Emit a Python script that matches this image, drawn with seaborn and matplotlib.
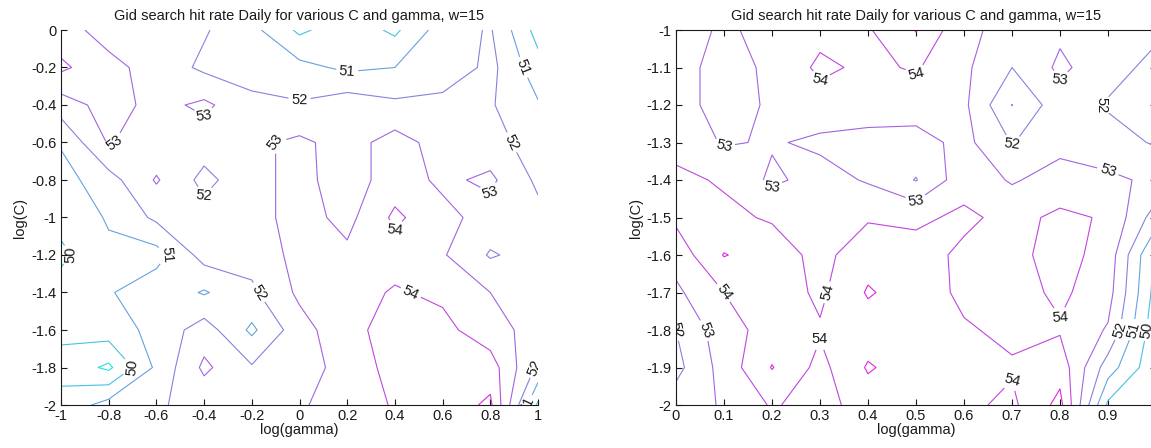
import numpy as np
import matplotlib
matplotlib.use("Agg")
import matplotlib.pyplot as plt
import seaborn as sns

# ---- grid search results: hit rate (%) on a log(gamma) x log(C) grid ----
# panel 1: log(gamma) -1..1, log(C) 0..-2
gamma_a = [-1.0, -0.8, -0.6, -0.4, -0.2, 0.0, 0.2, 0.4, 0.6, 0.8, 1.0]
logc_a = [0.0, -0.2, -0.4, -0.6, -0.8, -1.0, -1.2, -1.4, -1.6, -1.8, -2.0]
hit_a = [
    [53.4, 52.6, 52.3, 52.1, 51.3, 49.8, 50.6, 49.8, 51.5, 52.1, 49.6],
    [54.2, 53.3, 52.6, 51.8, 51.5, 51.3, 50.8, 51.0, 51.2, 52.3, 50.4],
    [52.5, 53.4, 52.7, 53.2, 52.3, 52.1, 52.6, 52.2, 52.4, 52.1, 51.1],
    [51.1, 53.1, 52.3, 52.5, 52.8, 53.2, 52.6, 53.4, 52.6, 52.4, 51.5],
    [50.6, 51.6, 53.1, 51.7, 52.7, 53.3, 52.5, 53.5, 52.8, 53.2, 51.8],
    [50.3, 51.1, 52.2, 52.4, 52.6, 53.4, 52.7, 54.2, 53.3, 52.6, 52.3],
    [49.8, 50.8, 50.6, 52.4, 52.4, 53.3, 53.2, 53.6, 53.1, 51.9, 52.4],
    [50.4, 50.9, 51.7, 50.9, 51.8, 53.2, 53.6, 54.1, 53.8, 53.0, 52.2],
    [50.2, 50.5, 51.3, 52.5, 50.8, 52.6, 53.7, 54.4, 54.3, 53.4, 52.6],
    [49.7, 48.8, 51.2, 53.2, 52.1, 52.4, 53.5, 54.3, 54.6, 54.5, 51.8],
    [50.3, 51.4, 51.9, 52.3, 52.4, 52.9, 53.4, 54.1, 54.4, 55.2, 49.8],
]

# panel 2: log(gamma) 0..1, log(C) -1..-2
gamma_b = [0.0, 0.1, 0.2, 0.3, 0.4, 0.5, 0.6, 0.7, 0.8, 0.9, 1.0]
logc_b = [-1.0, -1.1, -1.2, -1.3, -1.4, -1.5, -1.6, -1.7, -1.8, -1.9, -2.0]
hit_b = [
    [53.6, 52.8, 53.4, 53.7, 53.9, 55.05, 53.2, 52.7, 52.8, 52.6, 52.2],
    [53.4, 52.6, 53.2, 54.2, 53.8, 54.1, 53.2, 52.0, 53.2, 52.4, 51.7],
    [53.3, 52.7, 53.1, 53.6, 53.3, 53.5, 53.2, 50.98, 52.6, 51.9, 51.5],
    [53.7, 52.9, 53.1, 52.8, 52.8, 52.6, 53.3, 51.95, 52.7, 52.4, 51.9],
    [54.2, 53.9, 52.8, 53.4, 52.9, 51.95, 53.6, 52.9, 53.4, 53.2, 52.8],
    [54.2, 54.2, 53.9, 53.5, 53.9, 53.8, 54.2, 53.7, 54.2, 53.9, 51.5],
    [53.4, 55.05, 54.5, 53.7, 54.6, 54.4, 53.8, 53.7, 54.4, 53.6, 49.8],
    [52.8, 54.0, 54.6, 53.8, 55.1, 54.5, 53.8, 53.6, 54.2, 53.4, 49.6],
    [52.0, 53.6, 54.4, 54.1, 54.5, 54.6, 54.1, 53.8, 53.9, 52.9, 49.3],
    [51.7, 53.4, 55.05, 53.7, 55.1, 54.5, 54.3, 54.1, 54.6, 51.5, 49.2],
    [52.5, 53.1, 54.1, 53.6, 54.5, 54.6, 54.2, 53.8, 55.3, 49.8, 49.4],
]

levels = [49, 50, 51, 52, 53, 54, 55]
title = "Gid search hit rate Daily for various C and gamma, w=15"

xt_a = [-1, -0.8, -0.6, -0.4, -0.2, 0, 0.2, 0.4, 0.6, 0.8, 1]
xt_a_lbl = ["-1", "-0.8", "-0.6", "-0.4", "-0.2", "0", "0.2", "0.4", "0.6", "0.8", "1"]
yt_a = [0, -0.2, -0.4, -0.6, -0.8, -1, -1.2, -1.4, -1.6, -1.8, -2]
yt_a_lbl = ["0", "-0.2", "-0.4", "-0.6", "-0.8", "-1", "-1.2", "-1.4", "-1.6", "-1.8", "-2"]
xt_b = [0, 0.1, 0.2, 0.3, 0.4, 0.5, 0.6, 0.7, 0.8, 0.9, 1]
xt_b_lbl = ["0", "0.1", "0.2", "0.3", "0.4", "0.5", "0.6", "0.7", "0.8", "0.9", ""]
yt_b = [-1, -1.1, -1.2, -1.3, -1.4, -1.5, -1.6, -1.7, -1.8, -1.9, -2]
yt_b_lbl = ["-1", "-1.1", "-1.2", "-1.3", "-1.4", "-1.5", "-1.6", "-1.7", "-1.8", "-1.9", "-2"]

sns.set_theme(style="white")
plt.rcParams["font.family"] = ["Liberation Sans", "DejaVu Sans"]
plt.rcParams["axes.unicode_minus"] = False
plt.rcParams["xtick.direction"] = "in"
plt.rcParams["ytick.direction"] = "in"

# cyan -> magenta level colours, slightly muted
base = np.array(sns.mpl_palette("cool", 256))
idx = np.linspace(0, 255, len(levels)).astype(int)
line_colors = [tuple(0.72 * base[i] + 0.28 * 0.55) for i in idx]

fig = plt.figure(figsize=(11.51, 4.48), dpi=100)
fig.patch.set_facecolor("white")
ax1 = fig.add_axes([61 / 1151, 43 / 448, 477 / 1151, 375 / 448])
ax2 = fig.add_axes([676 / 1151, 43 / 448, 480 / 1151, 375 / 448])


def draw(ax, gx, gy, z, xt, xl, yt, yl, xlim, ylim, boxed):
    X, Y = np.meshgrid(gx, gy)
    Z = np.array(z)
    cs = ax.contour(X, Y, Z, levels=levels, colors=line_colors, linewidths=0.8)
    ax.clabel(cs, fmt="%d", fontsize=10.5, colors="k", inline=True, inline_spacing=3)
    ax.set_xlim(*xlim)
    ax.set_ylim(*ylim)
    ax.set_xticks(xt)
    ax.set_xticklabels(xl)
    ax.set_yticks(yt)
    ax.set_yticklabels(yl)
    ax.set_facecolor("white")
    ax.tick_params(axis="both", labelsize=10.5, length=4, width=0.8, color="k",
                   labelcolor="k", pad=3,
                   top=boxed, right=boxed, bottom=True, left=True)
    for side in ["left", "bottom", "top", "right"]:
        ax.spines[side].set_color("k")
        ax.spines[side].set_linewidth(0.8)
    if not boxed:
        ax.spines["top"].set_visible(False)
        ax.spines["right"].set_visible(False)
    ax.set_title(title, fontsize=10.5, color="k", pad=7)
    ax.set_xlabel("log(gamma)", fontsize=10.5, color="k", labelpad=0)
    ax.set_ylabel("log(C)", fontsize=10.5, color="k", labelpad=3)


draw(ax1, gamma_a, logc_a, hit_a, xt_a, xt_a_lbl, yt_a, yt_a_lbl, (-1, 1), (-2, 0), False)
draw(ax2, gamma_b, logc_b, hit_b, xt_b, xt_b_lbl, yt_b, yt_b_lbl, (0, 1), (-2, -1), True)

fig.savefig("out.png", dpi=100, facecolor="white")
